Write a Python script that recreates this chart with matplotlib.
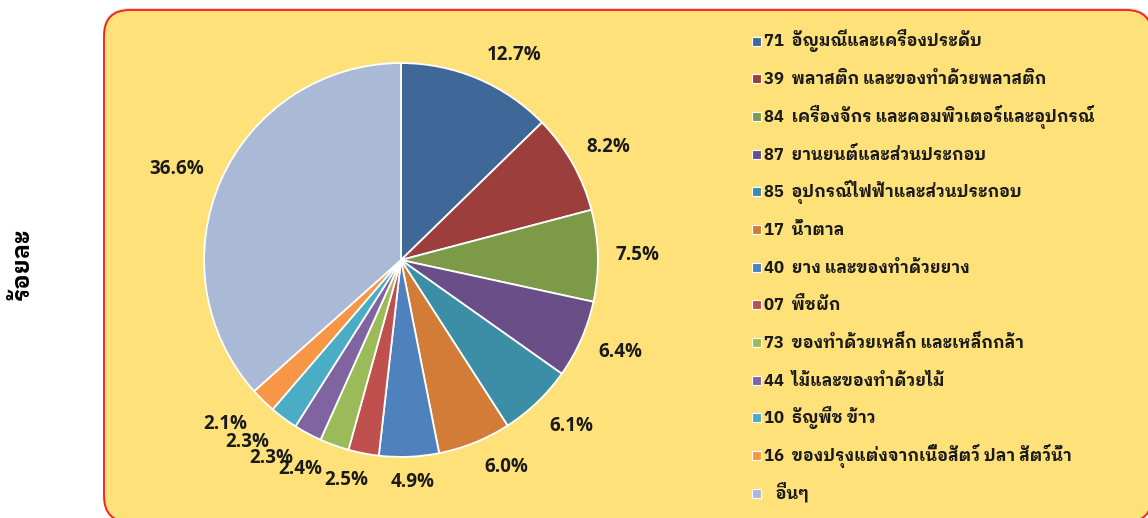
import matplotlib
matplotlib.use("Agg")
import matplotlib.pyplot as plt
import numpy as np
from matplotlib.patches import FancyBboxPatch, Rectangle
from matplotlib.transforms import IdentityTransform

# data
codes = ["71", "39", "84", "87", "85", "17", "40", "07", "73", "44", "10", "16", ""]
names = ["อัญมณีและเครื่องประดับ",
         "พลาสติก และของทำด้วยพลาสติก",
         "เครื่องจักร และคอมพิวเตอร์และอุปกรณ์",
         "ยานยนต์และส่วนประกอบ",
         "อุปกรณ์ไฟฟ้าและส่วนประกอบ",
         "น้ำตาล",
         "ยาง และของทำด้วยยาง",
         "พืชผัก",
         "ของทำด้วยเหล็ก และเหล็กกล้า",
         "ไม้และของทำด้วยไม้",
         "ธัญพืช ข้าว",
         "ของปรุงแต่งจากเนื้อสัตว์ ปลา สัตว์น้ำ",
         "อื่นๆ"]
shares = [12.7, 8.2, 7.5, 6.4, 6.1, 6.0, 4.9, 2.5, 2.4, 2.3, 2.3, 2.1, 36.6]
colors = ["#3F6797", "#9B3E3C", "#7C9A47", "#694E88", "#3B8EA5", "#D27C37",
          "#4F81BD", "#C0504D", "#9BBB59", "#8064A2", "#4BACC6", "#F79646",
          "#AAB9D6"]

# label placement tweaks (degrees turned, distance from centre) like Excel's best fit
nudge_deg = [-6, -1, 0, 1, 2, 5, 0.7, -3, -6, -5, -3.5, -2.5, 2]
label_r = [1.19, 1.2, 1.2, 1.21, 1.21, 1.18, 1.13, 1.15, 1.18, 1.2, 1.21, 1.22, 1.23]

thai = ["IBM Plex Sans Thai Looped", "Noto Sans Thai", "DejaVu Sans"]
W, H = 1148, 518
px = IdentityTransform()

fig = plt.figure(figsize=(11.48, 5.18), dpi=100)

# rounded yellow panel with red border (pixel coords)
shadow = FancyBboxPatch((103, -4), 1050, 514, boxstyle="round,pad=0,rounding_size=26",
                        transform=px, facecolor="#dcdcdc", edgecolor="none", zorder=0)
fig.patches.append(shadow)
panel = FancyBboxPatch((104, -4), 1048, 512, boxstyle="round,pad=0,rounding_size=26",
                       transform=px, facecolor="#FFE17A",
                       edgecolor="#FF1A1A", linewidth=1.3, zorder=1)
fig.patches.append(panel)

ax = fig.add_axes([145 / W, 2 / H, 512 / W, 512 / H])
ax.set_zorder(2)
wedges, texts = ax.pie(shares, colors=colors, startangle=90, counterclock=False,
                       radius=1.0, labels=["%.1f%%" % v for v in shares],
                       labeldistance=1.2,
                       wedgeprops=dict(edgecolor="white", linewidth=1.3))
for w, t, dd, r in zip(wedges, texts, nudge_deg, label_r):
    mid = np.deg2rad((w.theta1 + w.theta2) / 2 + dd)
    t.set_position((r * np.cos(mid), r * np.sin(mid)))
    t.set_ha("center")
    t.set_va("center")
    t.set_fontfamily("Open Sans")
    t.set_fontweight("bold")
    t.set_fontsize(13.5)
    t.set_color("#1a1a1a")
ax.set_xlim(-1.3, 1.3)
ax.set_ylim(-1.3, 1.3)
ax.set_aspect("equal")
ax.axis("off")

# legend, evenly spaced rows as in the original
row0, pitch = 41, 37.67
for i, (code, name, c) in enumerate(zip(codes, names, colors)):
    yc = H - (row0 + i * pitch)
    fig.patches.append(Rectangle((752, yc - 4.5), 9, 9, transform=px, facecolor=c,
                                 edgecolor="white", linewidth=0.8, zorder=3))
    label = code + "  " + name if code else "   " + name
    fig.text(764, yc - 5.5, label, transform=px, ha="left", va="baseline",
             fontsize=12, fontweight="bold", family=thai, color="#1a1a1a", zorder=3)

fig.text(22 / W, 0.49, "ร้อยละ", rotation=90, ha="center", va="center",
         fontsize=17, fontweight="bold", family=thai)

fig.savefig("out.png", dpi=100)
